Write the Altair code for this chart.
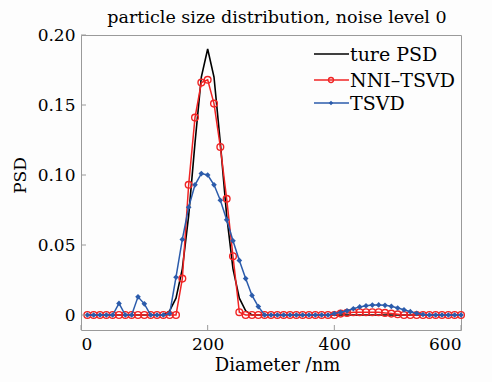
import altair as alt
import pandas as pd

diameter = [10, 20, 30, 40, 50, 60, 70, 80, 90, 100,
            110, 120, 130, 140, 150, 160, 170, 180, 190, 200,
            210, 220, 230, 240, 250, 260, 270, 280, 290, 300,
            310, 320, 330, 340, 350, 360, 370, 380, 390, 400,
            410, 420, 430, 440, 450, 460, 470, 480, 490, 500,
            510, 520, 530, 540, 550, 560, 570, 580, 590, 600]

true_psd = [0, 0, 0, 0, 0, 0, 0, 0, 0, 0,
            0, 0, 0, 0.003, 0.012, 0.033, 0.071, 0.123, 0.170, 0.190,
            0.170, 0.123, 0.071, 0.033, 0.012, 0.003, 0, 0, 0, 0,
            0, 0, 0, 0, 0, 0, 0, 0, 0, 0,
            0, 0, 0, 0, 0, 0, 0, 0, 0, 0,
            0, 0, 0, 0, 0, 0, 0, 0, 0, 0]

nni_tsvd = [0, 0, 0, 0, 0, 0, 0, 0, 0, 0,
            0, 0, 0, 0, 0, 0.026, 0.093, 0.141, 0.166, 0.168,
            0.151, 0.120, 0.083, 0.042, 0.002, 0, 0, 0, 0, 0,
            0, 0, 0, 0, 0, 0, 0, 0, 0, 0,
            0.001, 0.0015, 0.002, 0.002, 0.002, 0.002, 0.002, 0.0015, 0.001, 0.0005,
            0, 0, 0, 0, 0, 0, 0, 0, 0, 0]

tsvd = [0, 0, 0, 0, 0, 0.0083, 0, 0, 0.013, 0.008,
        0, 0, 0, 0.001, 0.027, 0.054, 0.077, 0.093, 0.101, 0.100,
        0.093, 0.082, 0.068, 0.053, 0.039, 0.026, 0.014, 0.006, 0, 0,
        0, 0, 0, 0, 0, 0, 0, 0, 0, 0.001,
        0.002, 0.003, 0.0045, 0.0058, 0.0066, 0.0071, 0.0072, 0.0069, 0.0062, 0.005,
        0.0037, 0.0024, 0.0012, 0.0004, 0, 0, 0, 0, 0, 0]

series_names = ["ture PSD", "NNI\u2013TSVD", "TSVD"]
series_colors = ["#000000", "#f02424", "#2b5bab"]
x_ticks = [0, 200, 400, 600]
y_ticks = [0, 0.05, 0.10, 0.15, 0.20]

W, H = 380, 295
FONT = "'DejaVu Serif', 'Liberation Serif', serif"
FRAME = "#9a9a9a"

xs = alt.Scale(domain=[0, 600], nice=False, zero=False)
ys = alt.Scale(domain=[-0.0107, 0.2], nice=False, zero=False)

xaxis = alt.Axis(values=x_ticks, tickSize=0, domain=False, grid=False,
                 labelFont=FONT, labelFontSize=17, labelColor="black", labelPadding=6,
                 title="Diameter /nm", titleFont=FONT, titleFontSize=18,
                 titleFontWeight="normal", titleColor="black", titlePadding=4,
                 titleX=W / 2 + 6)
yaxis = alt.Axis(values=y_ticks, tickSize=0, domain=False, grid=False,
                 labelFont=FONT, labelFontSize=17, labelColor="black", labelPadding=6,
                 labelExpr="datum.value == 0 ? '0' : format(datum.value, '.2f')",
                 title="PSD", titleFont=FONT, titleFontSize=17,
                 titleFontWeight="normal", titleColor="black", titlePadding=8,
                 titleY=140)

X = alt.X("d:Q", scale=xs, axis=xaxis)
Y = alt.Y("v:Q", scale=ys, axis=yaxis)

df_true = pd.DataFrame({"d": diameter, "v": true_psd})
df_nni = pd.DataFrame({"d": diameter, "v": nni_tsvd})
df_tsvd = pd.DataFrame({"d": diameter, "v": tsvd})

true_line = alt.Chart(df_true).mark_line(color=series_colors[0], strokeWidth=1.6).encode(x=X, y=Y)
nni_line = alt.Chart(df_nni).mark_line(color=series_colors[1], strokeWidth=1.5).encode(x=X, y=Y)
nni_pts = alt.Chart(df_nni).mark_point(shape="circle", filled=False, color=series_colors[1],
                                       size=45, strokeWidth=1.4, opacity=1).encode(x=X, y=Y)
tsvd_line = alt.Chart(df_tsvd).mark_line(color=series_colors[2], strokeWidth=1.5).encode(x=X, y=Y)
tsvd_pts = alt.Chart(df_tsvd).mark_point(shape="diamond", filled=True, color=series_colors[2],
                                         size=32, opacity=1).encode(x=X, y=Y)

# inward ticks
xt = alt.Chart(pd.DataFrame({"d": x_ticks})).mark_rule(color=FRAME, strokeWidth=1).encode(
    x=X, y=alt.value(H), y2=alt.value(H - 5))
yt = alt.Chart(pd.DataFrame({"v": y_ticks})).mark_rule(color=FRAME, strokeWidth=1).encode(
    y=Y, x=alt.value(0), x2=alt.value(5))

# manual legend
rows = [19, 45, 68]
leg_layers = []
for i, name in enumerate(series_names):
    one = pd.DataFrame({"label": [name]})
    base = alt.Chart(one)
    leg_layers.append(base.mark_rule(color=series_colors[i], strokeWidth=1.6).encode(
        x=alt.value(233), x2=alt.value(268), y=alt.value(rows[i])))
    if i == 1:
        leg_layers.append(base.mark_point(shape="circle", filled=False, color=series_colors[i],
                                          size=25, strokeWidth=1.3, opacity=1).encode(
            x=alt.value(250), y=alt.value(rows[i])))
    if i == 2:
        leg_layers.append(base.mark_point(shape="diamond", filled=True, color=series_colors[i],
                                          size=20, opacity=1).encode(
            x=alt.value(250), y=alt.value(rows[i])))
    leg_layers.append(base.mark_text(align="left", baseline="middle", font=FONT, fontSize=19,
                                     color="black").encode(
        x=alt.value(269), y=alt.value(rows[i] + 1), text="label:N"))

chart = alt.layer(true_line, nni_line, nni_pts, tsvd_line, tsvd_pts, xt, yt, *leg_layers).properties(
    width=W, height=H,
    autosize=alt.AutoSizeParams(type="none"),
    padding={"left": 81, "top": 35, "right": 31, "bottom": 52},
    background="#fdfdfd",
    title=alt.TitleParams("particle size distribution, noise level 0", font=FONT, fontSize=17.5,
                          fontWeight="normal", color="black", offset=0, dx=6),
).configure_view(stroke=FRAME, strokeWidth=1)

chart.save("out.html", embed_options={"renderer": "svg", "actions": False})
